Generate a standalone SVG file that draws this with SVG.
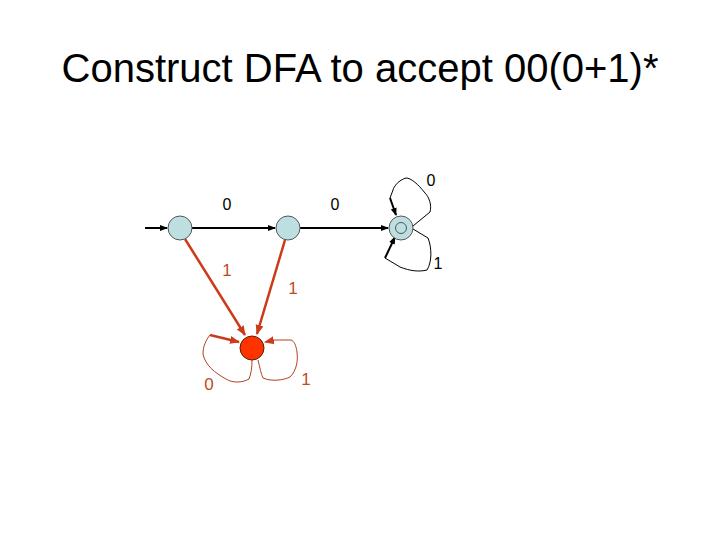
<svg xmlns="http://www.w3.org/2000/svg" width="720" height="540" viewBox="0 0 720 540">
<defs>
<style>
.title{font-family:"Liberation Sans",Arial,sans-serif;font-size:40px;fill:#000}
.lbl{font-family:"Liberation Sans",Arial,sans-serif;font-size:16px;fill:#000;text-anchor:middle}
.rlbl{font-family:"Liberation Sans",Arial,sans-serif;font-size:17px;fill:#C04A22;text-anchor:middle}
.st{fill:#BEDFE2;stroke:#555;stroke-width:1}
.dead{fill:#FF3300;stroke:#552200;stroke-width:1}
.e{fill:none;stroke:#000;stroke-width:2}
.th{fill:none;stroke:#000;stroke-width:1}
.re{fill:none;stroke:#CC3A1A;stroke-width:2.5}
.rth{fill:none;stroke:#B04020;stroke-width:1}
</style>
<marker id="ab" markerWidth="8" markerHeight="8" refX="7" refY="4" orient="auto" markerUnits="userSpaceOnUse"><path d="M0,1 L8,4 L0,7 z" fill="#000"/></marker>
<marker id="ar" markerWidth="10" markerHeight="10" refX="9" refY="5" orient="auto" markerUnits="userSpaceOnUse"><path d="M0,1 L10,5 L0,9 z" fill="#CC3A1A"/></marker>
</defs>
<text class="title" x="360" y="82" text-anchor="middle">Construct DFA to accept 00(0+1)*</text>
<g id="connectors">
<line class="e" x1="145" y1="228" x2="167" y2="228" marker-end="url(#ab)"/>
<line class="e" x1="192" y1="228" x2="275" y2="228" marker-end="url(#ab)"/>
<line class="e" x1="300" y1="228" x2="388" y2="228" marker-end="url(#ab)"/>
<path class="th" d="M413,226 L430,212 C432,205 429,197 425,193 C418,184 411,178 406,178 C399,180 394,186 393,190 L390,198"/>
<line class="e" x1="390" y1="198" x2="396" y2="215" marker-end="url(#ab)"/>
<path class="th" d="M413,229 L428,238 C432,248 432,262 427,270 C419,272 410,271 400,267 L385,258"/>
<line class="e" x1="385" y1="258" x2="395" y2="237" marker-end="url(#ab)"/>
<line class="re" x1="185" y1="239" x2="245" y2="335" marker-end="url(#ar)"/>
<line class="re" x1="285" y1="240" x2="257" y2="334" marker-end="url(#ar)"/>
<path class="rth" d="M252,360 C252,368 251,374 249,379 C242,383 232,383 226,379 C215,373 205,365 203,354 C203,346 206,340 210,335"/>
<line class="re" x1="210" y1="335" x2="239" y2="342" stroke-width="2" marker-end="url(#ar)"/>
<path class="rth" d="M258,360 C260,368 261,374 263,378 C272,382 284,380 290,377 C297,370 298,360 297,352 C296,345 294,341 291,340 L275,340"/>
<line class="rth" x1="275" y1="340" x2="265" y2="342" marker-end="url(#ar)"/>
</g>
<g id="q0"><circle class="st" cx="180" cy="228" r="12"/></g>
<g id="q1"><circle class="st" cx="288" cy="228" r="12"/></g>
<g id="q2"><circle class="st" cx="401" cy="228" r="12"/><circle fill="none" stroke="#555" stroke-width="1" cx="401" cy="228" r="5.5"/></g>
<g id="dead"><circle class="dead" cx="252" cy="348" r="12"/></g>
<g id="labels">
<text class="lbl" x="227" y="210">0</text>
<text class="lbl" x="335" y="210">0</text>
<text class="lbl" x="431" y="186">0</text>
<text class="lbl" x="438" y="269">1</text>
<text class="rlbl" x="227" y="276">1</text>
<text class="rlbl" x="293" y="294">1</text>
<text class="rlbl" x="209" y="390">0</text>
<text class="rlbl" x="306" y="385">1</text>
</g>
</svg>
